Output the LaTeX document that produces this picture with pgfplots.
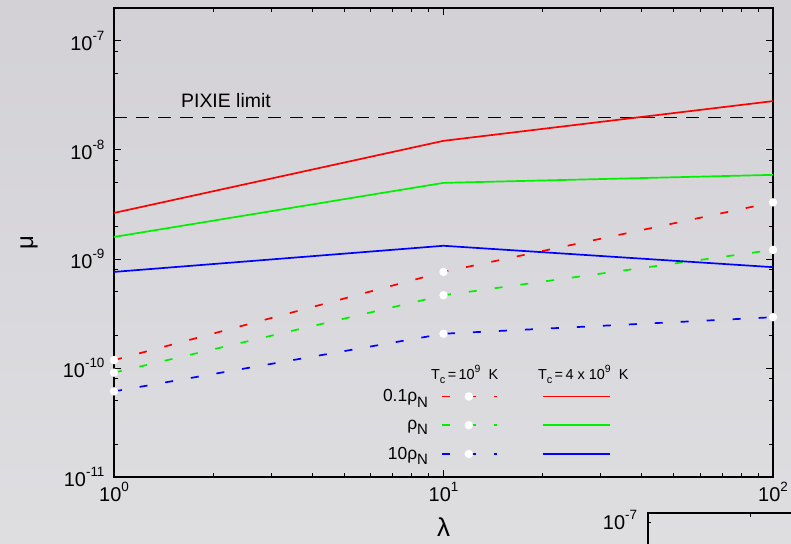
\documentclass[border=0pt]{standalone}
\usepackage{pgfplots}
\pgfplotsset{compat=1.18}
\usepackage{fontspec}
\setmainfont{Liberation Sans}

\definecolor{bgtop}{RGB}{211,209,214}
\definecolor{bgbot}{RGB}{222,222,225}
\definecolor{cred}{RGB}{255,0,0}
\definecolor{cgreen}{RGB}{0,240,0}
\definecolor{cblue}{RGB}{0,0,255}

% superscript / subscript helpers for the Helvetica-like labels
\newcommand\sups[2][13.5]{\raisebox{0.5em}{\fontsize{#1}{#1}\selectfont #2}}
\newcommand\subs[2][15]{\raisebox{-0.3em}{\fontsize{#1}{#1}\selectfont #2}}

\begin{document}
\begin{tikzpicture}[x=1bp,y=1bp]
% page background
\shade[top color=bgtop, bottom color=bgbot] (-114,-67) rectangle (677,477);

\begin{axis}[
    at={(0,0)}, anchor=south west,
    scale only axis, width=659bp, height=469bp,
    xmode=log, ymode=log,
    xmin=1, xmax=100, ymin=1e-11, ymax=2e-7,
    clip=false,
    axis line style={line width=1.3pt},
    tick align=inside,
    xtick pos=both, ytick pos=both,
    major tick length=7bp, minor tick length=4bp,
    every tick/.style={black, line width=0.8pt},
    xtick={1,10,100},
    xticklabels={10\sups{0},10\sups{1},10\sups{2}},
    minor xtick={2,3,4,5,6,7,8,9,20,30,40,50,60,70,80,90},
    ytick={1e-11,1e-10,1e-9,1e-8,1e-7},
    yticklabels={10\sups{-11},10\sups{-10},10\sups{-9},10\sups{-8},10\sups{-7}},
    minor ytick={2e-11,5e-11,8e-11,2e-10,5e-10,8e-10,2e-9,5e-9,8e-9,2e-8,5e-8,8e-8,2e-7},
    tick label style={font=\fontsize{20}{22}\selectfont},
    yticklabel style={xshift=-6bp},
    xticklabel style={yshift=-2bp},
    xlabel={λ}, ylabel={μ},
    xlabel style={font=\fontsize{26}{26}\selectfont, at={(axis description cs:0.5,0)}, anchor=center, yshift=-50bp},
    ylabel style={font=\fontsize{24}{24}\selectfont, at={(axis description cs:0,0.5)}, anchor=center, yshift=85bp},
    legend columns=2,
    legend plot pos=right,
    legend cell align=right,
    legend style={draw=none, fill=none, font=\fontsize{17.5}{17.5}\selectfont,
        at={(rel axis cs:0.7535,0.191)}, anchor=north east,
        row sep=12.5bp, column sep=0bp, inner sep=0pt},
    dashline/.style={line width=1.7bp, dash pattern=on 8bp off 18bp,
        mark=*, mark size=3.3bp, mark options={solid, fill=white, draw=white},
        legend image code/.code={\draw[mark repeat=2,mark phase=2]
            plot coordinates {(0bp,0bp)(27bp,0bp)(55bp,0bp)};}},
    solidline/.style={line width=1.7bp,
        legend image code/.code={\draw plot coordinates {(0bp,0bp)(67bp,0bp)};}},
]

% PIXIE sensitivity limit
\addplot[black, line width=0.9pt, dash pattern=on 13bp off 9bp, forget plot]
    coordinates {(1,2e-8)(100,2e-8)};
\node[anchor=west, font=\fontsize{19.5}{19.5}\selectfont] at (axis cs:1.56,2.85e-8) {PIXIE limit};

% 0.1 rho_N
\addplot[cred, dashline] coordinates {(1,1.18e-10)(10,7.6e-10)(100,3.3e-9)};
\addlegendentry{0.1ρ\subs{N}\hspace*{11bp}}
\addplot[cred, solidline] coordinates {(1,2.64e-9)(10,1.21e-8)(100,2.8e-8)};
\addlegendentry{\hspace*{40bp}}
% rho_N
\addplot[cgreen, dashline] coordinates {(1,9.06e-11)(10,4.64e-10)(100,1.21e-9)};
\addlegendentry{ρ\subs{N}\hspace*{11bp}}
\addplot[cgreen, solidline] coordinates {(1,1.59e-9)(10,4.98e-9)(100,5.9e-9)};
\addlegendentry{\hspace*{40bp}}
% 10 rho_N
\addplot[cblue, dashline] coordinates {(1,6.1e-11)(10,2.06e-10)(100,2.92e-10)};
\addlegendentry{10ρ\subs{N}\hspace*{11bp}}
\addplot[cblue, solidline] coordinates {(1,7.6e-10)(10,1.32e-9)(100,8.4e-10)};
\addlegendentry{\hspace*{40bp}}

% legend column headers
\node[font=\fontsize{14.5}{14.5}\selectfont] at (rel axis cs:0.532,0.219)
    {T\subs[11]{c}\,=\,10\sups[10.5]{9}\ \ K};
\node[font=\fontsize{14.5}{14.5}\selectfont] at (rel axis cs:0.712,0.219)
    {T\subs[11]{c}\,=\,4 x 10\sups[10.5]{9}\ \ K};
\end{axis}

% edge of the next panel, cut off in the reference
\draw[line width=1.3pt] (534,-67) -- (534,-36) -- (677,-36);
\draw[line width=0.8pt] (636,-36) -- (636,-40);
\draw[line width=0.8pt] (534,-45) -- (537,-45);
\node[font=\fontsize{20}{22}\selectfont] at (506,-43) {10\sups{-7}};

\pgfresetboundingbox
\path[use as bounding box] (-114,-67) rectangle (677,477);
\end{tikzpicture}
\end{document}
